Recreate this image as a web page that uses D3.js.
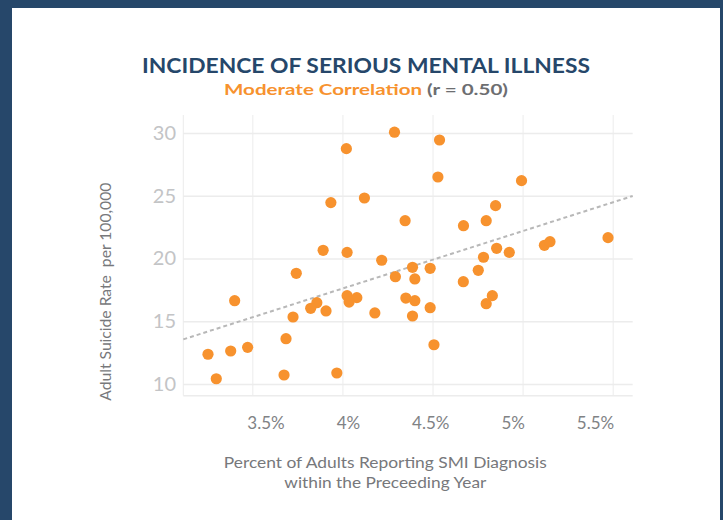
<!DOCTYPE html>
<html>
<head>
<meta charset="utf-8">
<script src="https://cdn.jsdelivr.net/npm/d3@7"></script>
<style>
	html, body { margin: 0; padding: 0; background: #26476a; }
	svg { display: block; }
</style>
</head>
<body>
<div id="smi-chart"></div>
<script>
'use strict'

var smiPct = [4.022, 3.936, 4.122, 3.893, 4.026, 4.218, 4.289, 4.539, 4.530, 4.994,
	4.348, 4.850, 4.672, 4.798, 5.474, 5.121, 5.152, 4.856, 4.926, 4.783,
	3.744, 3.402, 4.026, 4.080, 4.037, 3.858, 3.824, 3.909, 4.180, 3.726,
	3.687, 3.254, 3.380, 3.474, 3.300, 3.676, 3.969, 4.389, 4.487, 4.294,
	4.402, 4.754, 4.671, 4.352, 4.402, 4.487, 4.389, 4.832, 4.798, 4.508];

var suicideRate = [28.75, 24.45, 24.82, 20.65, 20.49, 19.86, 30.06, 29.44, 26.49, 26.20,
	23.01, 24.21, 22.61, 23.01, 21.66, 21.05, 21.34, 20.81, 20.49, 20.10,
	18.82, 16.64, 17.04, 16.88, 16.53, 16.48, 16.03, 15.82, 15.66, 15.34,
	13.61, 12.37, 12.63, 12.92, 10.42, 10.72, 10.88, 19.30, 19.22, 18.55,
	18.37, 19.06, 18.15, 16.85, 16.64, 16.08, 15.42, 17.04, 16.40, 13.13];

// dotted trend line ends
var trendX = [3.117, 5.611];
var trendY = [13.56, 24.98];

var xTicks = [3.5, 4, 4.5, 5, 5.5];
var xTickLabels = ['3.5%', '4%', '4.5%', '5%', '5.5%'];
var yTicks = [10, 15, 20, 25, 30];

var chart = {
	width: 723,
	height: 520,
	plot: { left: 183.3, right: 632.7, top: 115, bottom: 395.7 },
	colors: {
		frame: '#26476a',
		title: '#26476a',
		orange: '#f7922e',
		grid: '#ececec',
		yTick: '#c3c4c6',
		xTick: '#808285',
		axisTitle: '#77787b',
		trend: '#b8b8b8'
	},
	font: 'Lato, "Open Sans", sans-serif'
};

(function() {
	var c = chart;
	var p = c.plot;

	var svg = d3.select('#smi-chart')
		.append('svg')
		.attr('width', c.width)
		.attr('height', c.height);

	svg.append('rect')
		.attr('width', c.width)
		.attr('height', c.height)
		.attr('fill', c.colors.frame);

	svg.append('rect')
		.attr('x', 12)
		.attr('y', 8)
		.attr('width', 708)
		.attr('height', c.height - 8)
		.attr('fill', '#fff');

	var x = d3.scaleLinear()
		.domain([3.117, 5.611])
		.range([p.left, p.right]);

	// tick labels sit a little off the grid in the original
	var xLabel = d3.scaleLinear()
		.domain([3.5, 5.5])
		.range([265.5, 595]);

	var y = d3.scaleLinear()
		.domain([9.07, 31.43])
		.range([p.bottom, p.top]);

	// grid
	svg.append('g')
		.attr('transform', 'translate(0,' + p.bottom + ')')
		.call(d3.axisBottom(x).tickValues(xTicks).tickSize(-(p.bottom - p.top)).tickFormat(''))
		.call(function(g) {
			g.select('.domain').remove();
			g.selectAll('line').attr('stroke', c.colors.grid);
		});

	svg.append('g')
		.attr('transform', 'translate(' + p.left + ',0)')
		.call(d3.axisLeft(y).tickValues(yTicks).tickSize(-(p.right - p.left)).tickFormat(''))
		.call(function(g) {
			g.select('.domain').remove();
			g.selectAll('line').attr('stroke', c.colors.grid).attr('stroke-width', 1.5);
		});

	svg.append('line')
		.attr('x1', p.left).attr('x2', p.left)
		.attr('y1', p.top).attr('y2', p.bottom)
		.attr('stroke', c.colors.grid);

	svg.append('line')
		.attr('x1', p.left).attr('x2', p.right)
		.attr('y1', p.bottom).attr('y2', p.bottom)
		.attr('stroke', c.colors.grid)
		.attr('stroke-width', 1.5);

	// tick labels
	svg.append('g')
		.attr('transform', 'translate(0,' + p.bottom + ')')
		.call(d3.axisBottom(xLabel).tickValues(xTicks).tickSize(0).tickPadding(21)
			.tickFormat(function(d, i) { return xTickLabels[i]; }))
		.call(function(g) {
			g.select('.domain').remove();
			g.selectAll('text')
				.attr('fill', c.colors.xTick)
				.style('font-family', c.font)
				.style('font-size', '17px');
		});

	svg.append('g')
		.attr('transform', 'translate(176,0)')
		.call(d3.axisLeft(y).tickValues(yTicks).tickSize(0).tickPadding(0))
		.call(function(g) {
			g.select('.domain').remove();
			g.selectAll('text')
				.attr('fill', c.colors.yTick)
				.style('font-family', c.font)
				.style('font-size', '20px');
		});

	// trend line
	var trend = trendX.map(function(d, i) { return [d, trendY[i]]; });
	svg.append('path')
		.datum(trend)
		.attr('d', d3.line().x(function(d) { return x(d[0]); }).y(function(d) { return y(d[1]); }))
		.attr('fill', 'none')
		.attr('stroke', c.colors.trend)
		.attr('stroke-width', 2)
		.attr('stroke-dasharray', '4,3');

	// dots
	svg.append('g')
		.selectAll('circle')
		.data(smiPct)
		.enter().append('circle')
		.attr('cx', function(d) { return x(d); })
		.attr('cy', function(d, i) { return y(suicideRate[i]); })
		.attr('r', 5.6)
		.attr('fill', c.colors.orange);

	// titles
	svg.append('text')
		.attr('x', 366)
		.attr('y', 73)
		.attr('text-anchor', 'middle')
		.attr('textLength', 448)
		.attr('lengthAdjust', 'spacingAndGlyphs')
		.attr('fill', c.colors.title)
		.style('font-family', c.font)
		.style('font-weight', 'bold')
		.style('font-size', '20px')
		.text('INCIDENCE OF SERIOUS MENTAL ILLNESS');

	var sub = svg.append('text')
		.attr('x', 366)
		.attr('y', 95)
		.attr('text-anchor', 'middle')
		.attr('textLength', 284)
		.attr('lengthAdjust', 'spacingAndGlyphs')
		.style('font-family', c.font)
		.style('font-weight', 'bold')
		.style('font-size', '16px');
	sub.append('tspan').attr('fill', c.colors.orange).text('Moderate Correlation ');
	sub.append('tspan').attr('fill', '#6d6e71').text('(r = 0.50)');

	svg.append('text')
		.attr('transform', 'translate(111,291.7) rotate(-90)')
		.attr('text-anchor', 'middle')
		.attr('textLength', 218)
		.attr('lengthAdjust', 'spacingAndGlyphs')
		.attr('fill', c.colors.axisTitle)
		.style('font-family', c.font)
		.style('font-size', '15px')
		.style('white-space', 'pre')
		.text('Adult Suicide Rate  per 100,000');

	var xTitle = ['Percent of Adults Reporting SMI Diagnosis', 'within the Preceeding Year'];
	var xTitleLen = [323, 202];
	svg.selectAll('.x-title')
		.data(xTitle)
		.enter().append('text')
		.attr('class', 'x-title')
		.attr('x', 385.3)
		.attr('y', function(d, i) { return 468 + i * 19.5; })
		.attr('text-anchor', 'middle')
		.attr('textLength', function(d, i) { return xTitleLen[i]; })
		.attr('lengthAdjust', 'spacingAndGlyphs')
		.attr('fill', c.colors.axisTitle)
		.style('font-family', c.font)
		.style('font-size', '15px')
		.text(function(d) { return d; });
})();
</script>
</body>
</html>
